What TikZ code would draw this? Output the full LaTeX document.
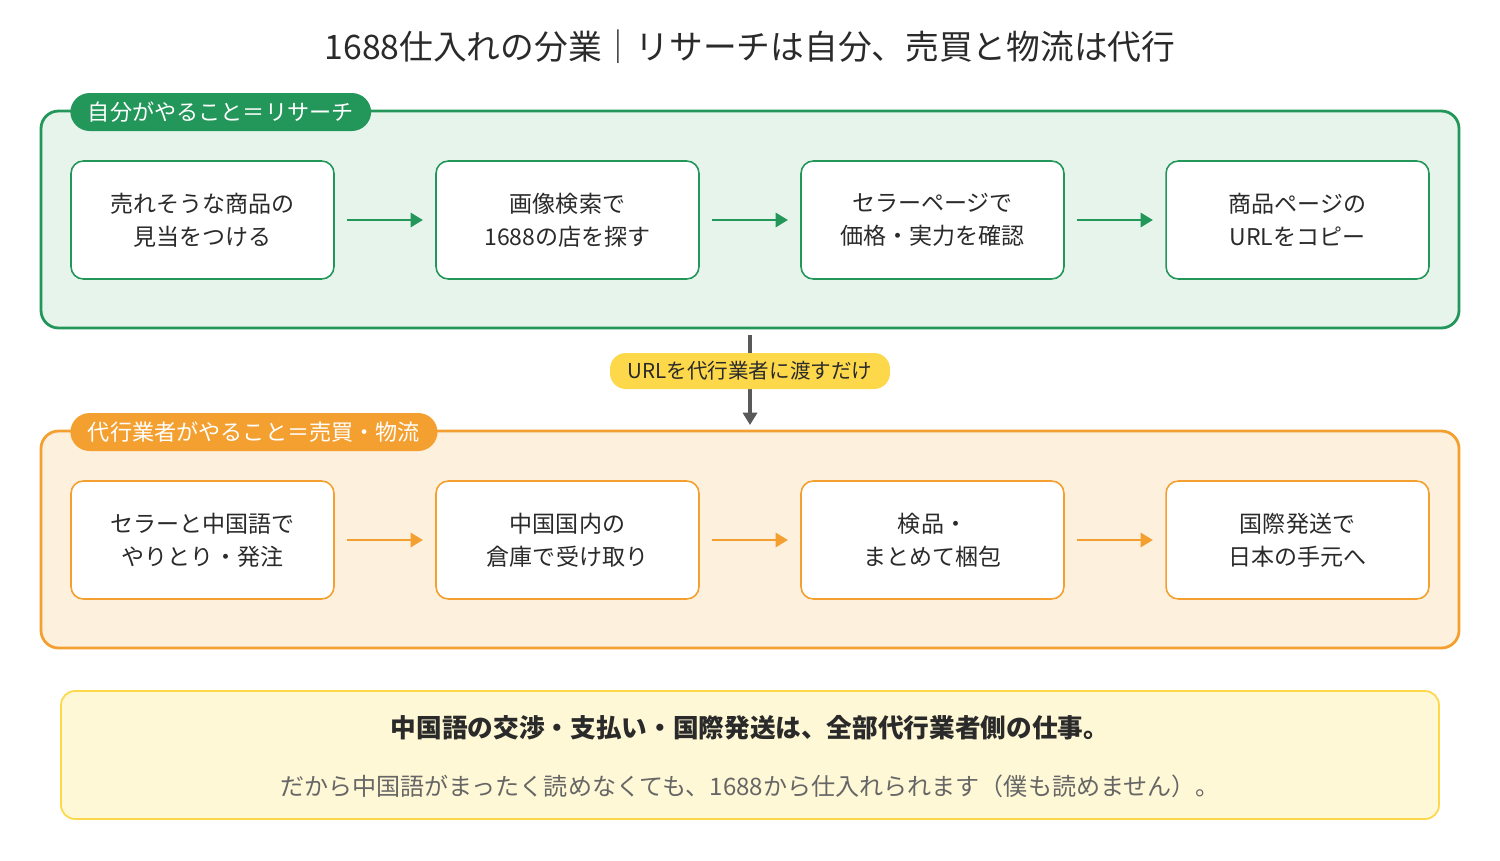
\documentclass[tikz,border=0pt]{standalone}
\usepackage{fontspec}
\setmainfont{Noto Sans CJK JP}
\usetikzlibrary{arrows.meta,positioning,backgrounds}
\definecolor{grn}{HTML}{23965A}
\definecolor{grnbg}{HTML}{E6F4EC}
\definecolor{org}{HTML}{F4A030}
\definecolor{orgbg}{HTML}{FDF0DC}
\definecolor{yel}{HTML}{FDD84A}
\definecolor{yelbg}{HTML}{FFF8D6}
\definecolor{txt}{HTML}{2A2A2A}

\begin{document}
\begin{tikzpicture}[
    x=0.02cm, y=-0.02cm,
    panel/.style={rounded corners=10pt, line width=1.6pt},
    stage/.style={rectangle, rounded corners=7pt, minimum width=5.26cm, minimum height=2.36cm, align=center, fill=white, line width=0.9pt, text=txt, font=\fontsize{13.1}{19}\selectfont},
    tag/.style={rounded corners=11pt, minimum height=0.76cm, inner xsep=10pt, text=white, font=\fontsize{12.6}{14}\selectfont},
    arrow/.style={line width=1.6pt,-{Triangle[length=7pt,width=8pt]}}
]
\useasboundingbox (0,0) rectangle (1500,860);

% title
\node (title) [text=txt, font=\fontsize{19.2}{22}\selectfont] at (750,47) {1688仕入れの分業｜リサーチは自分、売買と物流は代行};

% research panel
\draw [panel, draw=grn, fill=grnbg] (41,111) rectangle (1459,328);
\node (tagA) [tag, fill=grn, anchor=west] at (70,112) {自分がやること＝リサーチ};
\node (a1) [stage, draw=grn] at (202.5,220) {売れそうな商品の\\見当をつける};
\node (a2) [stage, draw=grn] at (567.5,220) {画像検索で\\1688の店を探す};
\node (a3) [stage, draw=grn] at (932.5,220) {セラーページで\\価格・実力を確認};
\node (a4) [stage, draw=grn] at (1297.5,220) {商品ページの\\URLをコピー};

% agent panel
\draw [panel, draw=org, fill=orgbg] (41,431) rectangle (1459,648);
\node (tagB) [tag, fill=org, anchor=west] at (70,432) {代行業者がやること＝売買・物流};
\node (b1) [stage, draw=org] at (202.5,540) {セラーと中国語で\\やりとり・発注};
\node (b2) [stage, draw=org] at (567.5,540) {中国国内の\\倉庫で受け取り};
\node (b3) [stage, draw=org] at (932.5,540) {検品・\\まとめて梱包};
\node (b4) [stage, draw=org] at (1297.5,540) {国際発送で\\日本の手元へ};

% arrows
\draw [arrow, draw=grn, fill=grn] ([xshift=7pt]a1.east) -- ([xshift=-7pt]a2.west);
\draw [arrow, draw=grn, fill=grn] ([xshift=7pt]a2.east) -- ([xshift=-7pt]a3.west);
\draw [arrow, draw=grn, fill=grn] ([xshift=7pt]a3.east) -- ([xshift=-7pt]a4.west);
\draw [arrow, draw=org, fill=org] ([xshift=7pt]b1.east) -- ([xshift=-7pt]b2.west);
\draw [arrow, draw=org, fill=org] ([xshift=7pt]b2.east) -- ([xshift=-7pt]b3.west);
\draw [arrow, draw=org, fill=org] ([xshift=7pt]b3.east) -- ([xshift=-7pt]b4.west);

% hand-over
\coordinate (hsrc) at (750,335);
\coordinate (hdst) at (750,425);
\draw [arrow, line width=2.2pt, draw=black!65, fill=black!65] (hsrc) -- (hdst);
\node (hand) [fill=yel, rounded corners=9pt, minimum width=5.6cm, minimum height=0.72cm, text=txt, font=\fontsize{11.7}{13}\selectfont] at (750,371) {URLを代行業者に渡すだけ};

% note
\draw [rounded corners=8pt, draw=yel, fill=yelbg, line width=1pt] (61,691) rectangle (1439,819);
\node (note1) [text=txt, font=\bfseries\fontsize{14.6}{17}\selectfont] at (750,728) {中国語の交渉・支払い・国際発送は、全部代行業者側の仕事。};
\node (note2) [text=black!60, font=\fontsize{13.7}{16}\selectfont] at (750,786) {だから中国語がまったく読めなくても、1688から仕入れられます（僕も読めません）。};
\end{tikzpicture}
\end{document}
